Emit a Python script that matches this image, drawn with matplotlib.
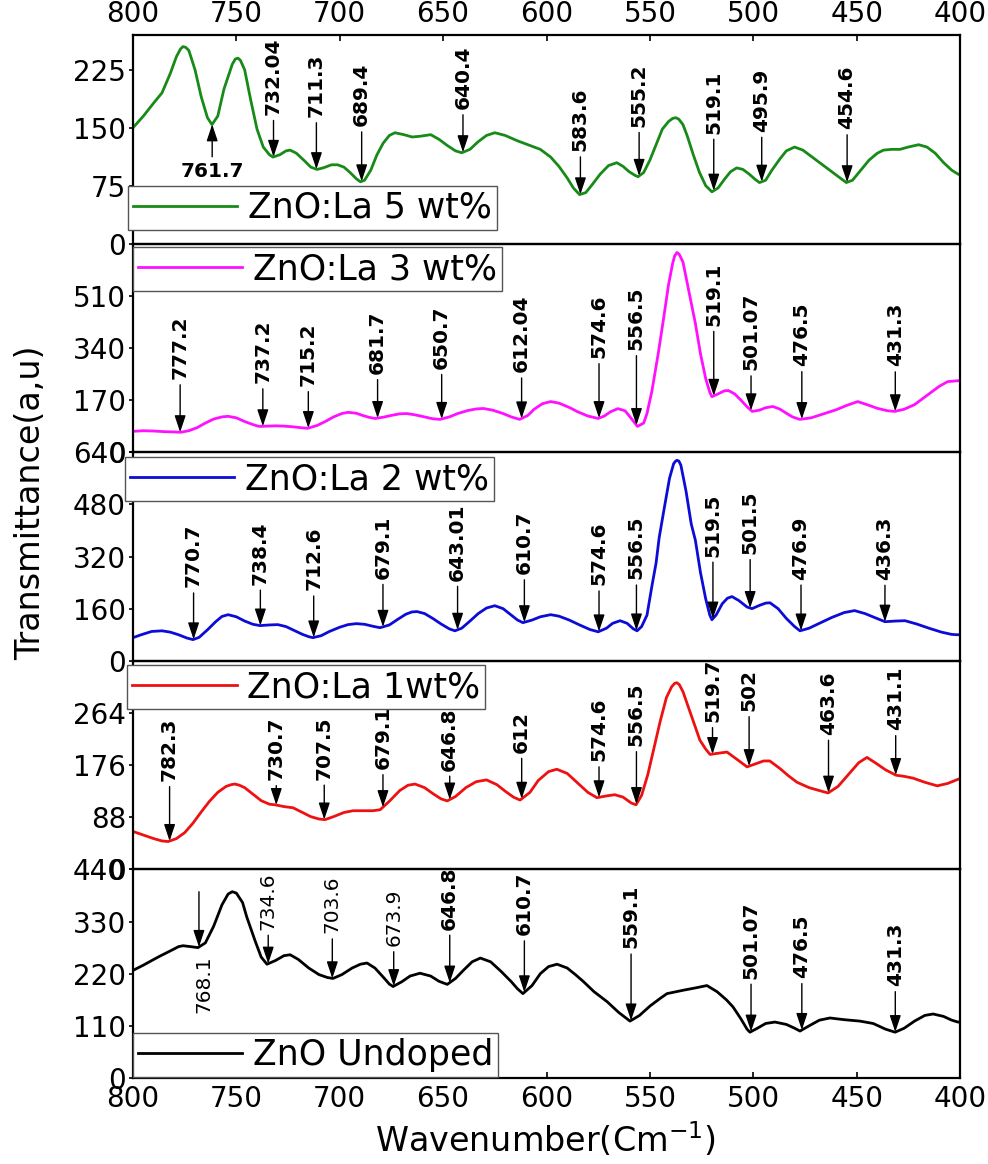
import numpy as np
import matplotlib.pyplot as plt

# FTIR spectra, ZnO with La doping
wn_la5 = [800, 795, 790, 786, 782, 779, 777, 775.8, 774.5, 773, 770, 767, 764, 761.8, 759, 756, 752, 750.5, 749.2, 748,
          746, 743, 740, 737, 734, 732.3, 729, 726, 724, 721, 717, 714, 711, 708, 704, 701, 698, 695, 692, 690,
          688, 685, 682, 679, 676, 673.3, 669, 665, 661, 656, 652, 648, 644, 641, 637, 633, 629, 625, 620, 614,
          608, 603, 598, 594, 590, 587, 584, 581, 578, 574, 570, 566, 563, 560, 557, 555.7, 553, 550, 547, 544,
          541, 539, 537.5, 536, 534, 532, 529, 526, 523, 520, 517, 514, 511, 508, 505, 502, 499, 497, 494, 491,
          487, 484, 480, 476, 472, 467, 462, 458, 455, 452, 448, 444, 440, 437, 433, 429, 425, 420, 416, 412,
          408, 404, 401, 400]
t_la5 = [150, 165, 182, 195, 220, 242, 252, 255, 254, 250, 225, 190, 163, 154, 165, 200, 232, 239, 240, 237,
         225, 185, 148, 125, 115, 112, 115, 120, 121, 117, 107, 99, 96, 98, 102, 102, 99, 92, 84, 80,
         82, 95, 115, 130, 140, 143.5, 141, 138, 139, 141, 135, 127, 120, 117.6, 122, 132, 140, 143.5, 140, 133,
         127, 122, 112, 100, 85, 72, 63.4, 66, 76, 90, 101, 104.7, 100, 93, 88, 86.6, 92, 108, 128, 148,
         158, 162, 163, 161, 154, 140, 115, 92, 75, 67, 72, 83, 93, 98, 96, 90, 83, 79, 82, 95,
         110, 120, 125, 121, 113, 103, 93, 85, 79, 82, 95, 108, 117, 121, 122, 122, 125, 128, 125, 117,
         105, 95, 90, 89]

wn_la3 = [800, 795, 790, 785, 780, 777, 773, 769, 765, 761, 757, 754, 750, 746, 742, 739, 735, 731, 727, 723,
          719, 715.5, 711, 707, 703, 699, 696, 692, 689, 686, 683, 679, 675, 671, 667.5, 663, 659, 655, 651.5, 647,
          643, 638, 634, 630.5, 626, 621, 617, 613, 609, 606, 602, 598, 594, 589, 585, 580, 575, 572, 569, 565.5,
          562, 559, 556, 553, 551.4, 549, 546, 543.5, 541, 539, 538, 536.9, 535.8, 534, 531, 528, 525.5, 523, 521, 520,
          517, 514, 512, 509, 506, 503, 500.5, 497, 494, 490.5, 487, 484, 481, 477.5, 472, 466, 460, 455, 449.5, 445,
          440, 435, 431.5, 427, 422, 418, 414, 410, 406, 401, 400]
t_la3 = [68, 70, 69, 67, 66, 65, 70, 80, 95, 108, 115, 117, 112, 100, 90, 84, 85, 86, 85, 83,
         80, 78, 87, 100, 115, 126, 130, 127, 120, 114, 110, 114, 120, 125, 126, 121, 115, 109, 107, 115,
         126, 136, 141, 142.5, 137, 126, 115, 107, 120, 140, 158, 165, 160, 146, 132, 118, 110, 118, 132, 142,
         135, 110, 84, 95, 126, 200, 320, 430, 545, 615, 640, 651, 645, 620, 520, 420, 320, 240, 195, 181,
         190, 200, 201, 190, 170, 148, 133, 137, 145, 149, 140, 127, 115, 107, 112, 125, 138, 152, 165, 155,
         143, 135, 133, 140, 155, 175, 195, 215, 230, 233, 233]

wn_la2 = [800, 796, 791, 786, 782, 778, 774, 771, 768, 764, 760, 757, 754, 750, 746, 742, 738.6, 734, 730, 726,
          722, 718, 715, 713, 709, 705, 700, 696, 692, 688, 684, 680.5, 676, 672, 668, 665, 662.6, 659, 655, 651,
          647, 644.3, 641, 637, 633, 629, 625, 621, 617, 614, 611.4, 607, 603, 598, 594, 589, 584, 579, 575, 571,
          568, 564.4, 561, 558, 556.2, 554, 551.4, 549, 547, 545.5, 543, 540.5, 538.5, 537.5, 536.9, 536, 535, 532.5,
          530, 528, 525.5, 523, 521, 520, 518, 515, 512.5, 510.3, 507, 503, 500.6, 497, 494, 491.9, 488, 484, 480, 477.4,
          473, 467, 462, 456, 451, 446, 441, 436.3, 431, 426.6, 421, 415, 409, 404, 401.5, 400]
t_la2 = [71, 80, 90, 92, 88, 80, 70, 65, 72, 95, 120, 136, 141.5, 135, 122, 112, 108, 110, 111, 105,
         93, 81, 74, 71, 77, 90, 103, 111, 114, 112, 106, 101.5, 110, 127, 143, 150, 151, 145, 130, 113,
         98, 92, 100, 122, 145, 162, 169, 160, 140, 125, 117, 125, 135, 141.5, 137, 125, 110, 96, 89, 100,
         115, 123, 115, 98, 92, 105, 140, 230, 300, 378, 470, 560, 605, 613, 615, 613, 600, 520,
         420, 370, 270, 190, 140, 126, 140, 175, 192, 197, 185, 165, 160, 170, 177, 178, 160, 130, 105, 92,
         100, 118, 133, 148, 154, 145, 132, 120, 122, 123, 113, 100, 88, 81, 80, 80]

wn_la1 = [800, 795, 790, 786, 783, 779, 775, 771, 767, 763, 759, 755, 752.5, 750.7, 748.5, 746, 742, 738, 734, 731.3,
          727, 722.6, 718, 714, 710, 707.1, 703, 698, 693.6, 689, 684, 680.5, 676, 671, 667, 663.6, 659, 655, 651, 648,
          644, 639, 634, 629, 624, 620, 616, 612.8, 608, 604, 599, 595, 590, 585, 580, 575.6, 571, 567, 563, 559,
          556.7, 554, 551, 548, 545, 542, 539.5, 538, 537, 535.8, 534, 531, 528, 525.8, 523, 520.9, 517, 512.7, 508, 503,
          499, 495, 492, 487, 483, 478.8, 473, 468, 463.8, 459, 454, 449, 445, 441, 436, 431, 427, 422.7, 417, 411,
          406, 401, 400]
t_la1 = [64, 58, 52, 48, 47, 52, 62, 78, 97, 115, 130, 140, 143, 144, 142, 138, 127, 116, 110, 109,
         106, 104, 96, 89, 85, 84, 89, 96, 99, 99, 99, 100.6, 115, 133, 142, 144, 138, 128, 119, 115.6,
         123, 138, 148, 151, 143, 132, 122, 117, 130, 150, 165, 169, 162, 146, 130, 121, 124, 126, 122, 112,
         109, 125, 160, 205, 250, 290, 308, 314, 315, 312, 300, 270, 240, 218, 203, 194, 196, 198, 186, 173,
         178, 183, 183, 170, 158, 147, 138, 133, 129, 140, 160, 180, 189, 180, 168, 159, 157, 154, 147, 141,
         145, 152, 153]

wn_und = [800, 795, 790, 787, 782, 778, 775.8, 772, 768.6, 765, 761, 757, 754, 752, 750, 747, 745, 741, 738, 735.2,
          731, 727, 724, 720, 715, 710, 706, 703.3, 699, 694, 690, 686.8, 683, 679, 676, 674.2, 670, 666, 661.2, 656,
          652, 648, 644, 640, 636, 632, 627, 622, 617, 614, 611.4, 607, 603, 599, 594.9, 590, 586, 582.3, 577, 570.7,
          565, 559.6, 555, 549.9, 545, 541.7, 534, 528, 522.4, 517.5, 513, 509.8, 506, 503, 501.6, 498, 494, 489.5, 484, 480,
          477.4, 473, 468, 462.9, 456, 448.4, 442, 436, 431.4, 427, 422, 417, 413, 408, 404, 401, 400]
t_und = [227, 238, 250, 257, 268, 277, 279, 277, 275, 285, 320, 365, 388, 393, 390, 370, 340, 290, 255, 240,
         248, 258, 260, 250, 232, 218, 212, 210, 218, 232, 240, 242.5, 232, 213, 198, 193, 203, 215, 221, 215,
         204, 197.5, 210, 228, 245, 253, 245, 225, 203, 188, 178, 195, 220, 235, 240, 232, 218, 204, 182, 161,
         138, 120, 132, 152, 168, 178, 185, 190, 195, 182, 165, 150, 125, 103, 96.6, 105, 115, 118, 113, 105,
         99, 110, 122, 126.6, 123, 120, 115, 103, 96.6, 105, 120, 132, 135, 130, 122, 118, 118]

# peak labels
peaks_la5 = ['761.7', '732.04', '711.3', '689.4', '640.4', '583.6', '555.2', '519.1', '495.9', '454.6']
peaks_la3 = ['777.2', '737.2', '715.2', '681.7', '650.7', '612.04', '574.6', '556.5', '519.1', '501.07', '476.5', '431.3']
peaks_la2 = ['770.7', '738.4', '712.6', '679.1', '643.01', '610.7', '574.6', '556.5', '519.5', '501.5', '476.9', '436.3']
peaks_la1 = ['782.3', '730.7', '707.5', '679.1', '646.8', '612', '574.6', '556.5', '519.7', '502', '463.6', '431.1']
peaks_und = ['768.1', '734.6', '703.6', '673.9', '646.8', '610.7', '559.1', '501.07', '476.5', '431.3']

# arrow length (pixels) between label and curve
lift_la5 = [-38, 42, 52, 55, 43, 43, 49, 57, 50, 53]
lift_la3 = [53, 43, 42, 44, 50, 46, 60, 75, 70, 40, 53, 45]
lift_la2 = [52, 41, 47, 48, 49, 48, 46, 51, 62, 54, 51, 42]
lift_la1 = [60, 25, 40, 38, 29, 46, 36, 58, 32, 55, 58, 45]
lift_und = [58, 34, 45, 40, 53, 57, 72, 53, 52, 46]
light = ['768.1', '734.6', '703.6', '673.9']

panels = [
    (wn_la5, t_la5, '#178a17', 'ZnO:La 5 wt%', peaks_la5, lift_la5, 270, [0, 75, 150, 225], 'lower left', (-0.006, 0.065)),
    (wn_la3, t_la3, '#ff10ff', 'ZnO:La 3 wt%', peaks_la3, lift_la3, 680, [0, 170, 340, 510], 'upper left', (0.0, 0.984)),
    (wn_la2, t_la2, '#0c0cd6', 'ZnO:La 2 wt%', peaks_la2, lift_la2, 640, [0, 160, 320, 480, 640], 'upper left', (-0.01, 0.977)),
    (wn_la1, t_la1, '#ee1111', 'ZnO:La 1wt%', peaks_la1, lift_la1, 352, [0, 88, 176, 264], 'upper left', (-0.007, 0.98)),
    (wn_und, t_und, 'black', 'ZnO Undoped', peaks_und, lift_und, 440, [0, 110, 220, 330, 440], 'lower left', (0.0, 0.005)),
]

fig = plt.figure(figsize=(9.88, 11.64), dpi=100)
H = 1164.0
top_px, ph = 35.0, 208.6
arrow = dict(arrowstyle='-|>,head_length=0.6,head_width=0.2', color='black', lw=1.0,
             mutation_scale=17, shrinkA=2, shrinkB=0)
fs_mark = 14.5

for i, (wn, tr, col, name, peaks, lifts, ymax, yt, loc, anchor) in enumerate(panels):
    ax = fig.add_axes([133 / 988, 1 - (top_px + (i + 1) * ph) / H, 827 / 988, ph / H])
    ax.set_facecolor('none')
    ax.plot(wn, tr, color=col, lw=2.0, label=name, solid_joinstyle='round')
    ax.set_xlim(800, 400)
    ax.set_ylim(0, ymax)
    ax.set_yticks(yt)
    ax.set_xticks(np.arange(800, 399, -50))
    for s in ax.spines.values():
        s.set_linewidth(1.6)
    ax.tick_params(axis='y', labelsize=20, direction='out', length=3, width=1.2, pad=2)
    ax.tick_params(axis='x', labelsize=20, direction='in', length=4, width=1.2, pad=5,
                   bottom=(i == 4), labelbottom=(i == 4), top=(i == 0), labeltop=(i == 0))

    xs = np.array(wn, dtype=float)[::-1]
    ys = np.array(tr, dtype=float)[::-1]
    for lab, lift in zip(peaks, lifts):
        x = float(lab)
        y = np.interp(x, xs, ys)
        wt = 'normal' if lab in light else 'bold'
        if lab == '761.7':
            ax.annotate(lab, xy=(x, y), xytext=(0, lift), textcoords='offset pixels',
                        ha='center', va='top', fontsize=fs_mark, fontweight='bold', arrowprops=arrow)
        elif lab == '768.1' and i == 4:
            ax.annotate('', xy=(x, y), xytext=(0, lift), textcoords='offset pixels', arrowprops=arrow)
            ax.annotate(lab, xy=(x, y), xytext=(5, -8), textcoords='offset pixels', rotation=90,
                        ha='center', va='top', fontsize=fs_mark, fontweight=wt)
        else:
            ax.annotate(lab, xy=(x, y), xytext=(0, lift), textcoords='offset pixels', rotation=90,
                        ha='center', va='bottom', fontsize=fs_mark, fontweight=wt, arrowprops=arrow)

    leg = ax.legend(loc=loc, bbox_to_anchor=anchor, borderaxespad=0, fontsize=25,
                    fancybox=False, framealpha=1, edgecolor='#555555', borderpad=0.15,
                    handlelength=3.0, handletextpad=0.3)
    leg.get_frame().set_linewidth(1.0)
    leg.set_zorder(5)

fig.text(0.031, 0.568, 'Transmittance(a,u)', rotation=90, ha='center', va='center', fontsize=24)
fig.text(0.552, 0.021, 'Wavenumber(Cm$^{-1}$)', ha='center', va='center', fontsize=24)

fig.savefig('out.png', dpi=100)
